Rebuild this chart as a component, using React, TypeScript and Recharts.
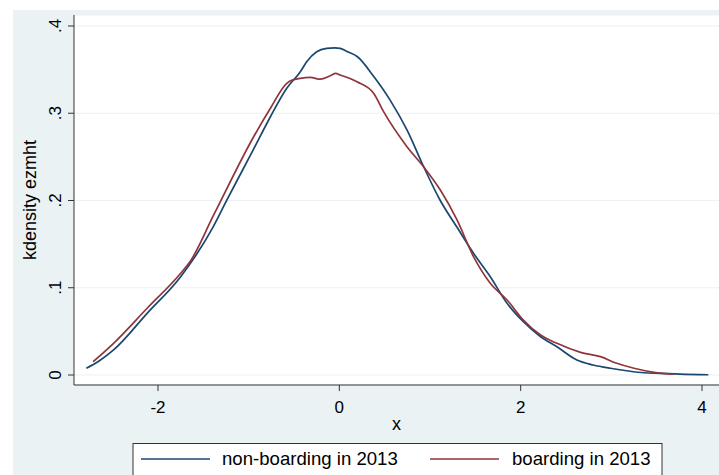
import React from "react";
import { LineChart, Line, XAxis, YAxis, CartesianGrid } from "recharts";

// Series: non-boarding in 2013 (kernel density of ezmht)
const nonBoardingX = [-2.79, -2.65, -2.49, -2.12, -1.75, -1.39, -1.24, -0.95, -0.76, -0.58, -0.43, -0.36, -0.25, -0.14, -0.05, 0.01, 0.09, 0.2, 0.38, 0.56, 0.75, 0.93, 1.11, 1.3, 1.48, 1.665, 1.85, 2.03, 2.22, 2.4, 2.62, 2.8, 2.99, 3.17, 3.36, 3.54, 3.76, 4.07];
const nonBoardingY = [0.0077, 0.016, 0.0287, 0.0707, 0.1127, 0.17, 0.2006, 0.258, 0.296, 0.3286, 0.3476, 0.359, 0.3705, 0.3744, 0.375, 0.3744, 0.3705, 0.3648, 0.342, 0.315, 0.28, 0.2387, 0.2006, 0.169, 0.1395, 0.1127, 0.0822, 0.0611, 0.0439, 0.0324, 0.0172, 0.0115, 0.0077, 0.0049, 0.0026, 0.0019, 0.001, 0.0003];

// Series: boarding in 2013
const boardingX = [-2.716, -2.49, -2.12, -1.75, -1.64, -1.386, -0.945, -0.76, -0.58, -0.52, -0.43, -0.32, -0.21, -0.1, -0.04, 0.01, 0.195, 0.378, 0.488, 0.746, 0.929, 1.114, 1.298, 1.48, 1.665, 1.85, 2.03, 2.22, 2.4, 2.66, 2.88, 3.06, 3.25, 3.47, 3.69];
const boardingY = [0.0152, 0.0363, 0.0765, 0.1166, 0.131, 0.1834, 0.2731, 0.3057, 0.3343, 0.338, 0.34, 0.341, 0.339, 0.343, 0.3456, 0.3438, 0.336, 0.3229, 0.3018, 0.2617, 0.2387, 0.212, 0.1777, 0.1356, 0.1051, 0.086, 0.063, 0.0458, 0.0363, 0.026, 0.021, 0.0134, 0.0077, 0.0031, 0.001];

const xTicks = [-2, 0, 2, 4];
const yTicks = [0, 0.1, 0.2, 0.3, 0.4];
const yTickLabels = ["0", ".1", ".2", ".3", ".4"];

const seriesNames = ["non-boarding in 2013", "boarding in 2013"];
const BLUE = "#1a476f";
const RED = "#90353b";
const BG = "#eaf2f3";
const FONT = "'Liberation Sans', Arial, sans-serif";

const nonBoarding = nonBoardingX.map((x, i) => ({ x, y: nonBoardingY[i] }));
const boarding = boardingX.map((x, i) => ({ x, y: boardingY[i] }));

const YTick = (props: any) => {
  const { x, y, payload } = props;
  const idx = yTicks.indexOf(payload.value);
  const label = idx >= 0 ? yTickLabels[idx] : String(payload.value);
  const bx = x - 7;
  return (
    <text x={bx} y={y} transform={`rotate(-90, ${bx}, ${y})`} textAnchor="middle" fontSize={17} fontFamily={FONT} fill="#000">
      {label}
    </text>
  );
};

const XTick = (props: any) => {
  const { x, y, payload } = props;
  return (
    <text x={x} y={y + 22} textAnchor="middle" fontSize={17} fontFamily={FONT} fill="#000">
      {String(payload.value)}
    </text>
  );
};

const XTitle = (props: any) => {
  const vb = props.viewBox || { x: 74, y: 385, width: 645, height: 90 };
  return (
    <text x={vb.x + vb.width / 2} y={vb.y + 45} textAnchor="middle" fontSize={18} fontFamily={FONT} fill="#000">
      x
    </text>
  );
};

const YTitle = (props: any) => {
  const vb = props.viewBox || { x: 0, y: 15, width: 74, height: 370 };
  const cx = 36;
  const cy = vb.y + vb.height / 2;
  return (
    <text x={cx} y={cy} transform={`rotate(-90, ${cx}, ${cy})`} textAnchor="middle" fontSize={18} fontFamily={FONT} fill="#000">
      kdensity ezmht
    </text>
  );
};

export default function App() {
  return (
    <div style={{ position: "absolute", left: 0, top: 0, width: 719, height: 475, background: "#fff", overflow: "hidden" }}>
      <div style={{ position: "absolute", left: 13, top: 10, width: 706, height: 465, background: BG }} />
      <div style={{ position: "absolute", left: 0, top: 0 }}>
        <LineChart width={719} height={475} margin={{ top: 15, right: 0, left: 0, bottom: 0 }}>
          <CartesianGrid vertical={false} horizontal={true} stroke={BG} strokeWidth={1.2} fill="#ffffff" />
          <XAxis
            type="number"
            dataKey="x"
            domain={[-2.9265, 4.1875]}
            allowDataOverflow
            ticks={xTicks}
            height={90}
            tickSize={6}
            tickMargin={0}
            axisLine={{ stroke: "#333" }}
            tickLine={{ stroke: "#333" }}
            tick={<XTick />}
            label={<XTitle />}
          />
          <YAxis
            type="number"
            dataKey="y"
            domain={[-0.01146, 0.4126]}
            allowDataOverflow
            ticks={yTicks}
            width={74}
            tickSize={6}
            tickMargin={0}
            axisLine={{ stroke: "#333" }}
            tickLine={{ stroke: "#333" }}
            tick={<YTick />}
            label={<YTitle />}
          />
          <Line data={nonBoarding} dataKey="y" type="monotone" stroke={BLUE} strokeWidth={1.7} dot={false} isAnimationActive={false} name={seriesNames[0]} />
          <Line data={boarding} dataKey="y" type="monotone" stroke={RED} strokeWidth={1.7} dot={false} isAnimationActive={false} name={seriesNames[1]} />
        </LineChart>
      </div>
      <svg style={{ position: "absolute", left: 0, top: 0, pointerEvents: "none" }} width={719} height={475}>
        <rect x={133} y={443.5} width={529} height={40} fill="#fff" stroke="#333" strokeWidth={1} />
        <line x1={141} x2={210} y1={459} y2={459} stroke={BLUE} strokeWidth={1.7} />
        <text x={222} y={465} fontSize={18.6} fontFamily={FONT} fill="#000">{seriesNames[0]}</text>
        <line x1={430} x2={499} y1={459} y2={459} stroke={RED} strokeWidth={1.7} />
        <text x={512} y={465} fontSize={18.6} fontFamily={FONT} fill="#000">{seriesNames[1]}</text>
      </svg>
    </div>
  );
}
